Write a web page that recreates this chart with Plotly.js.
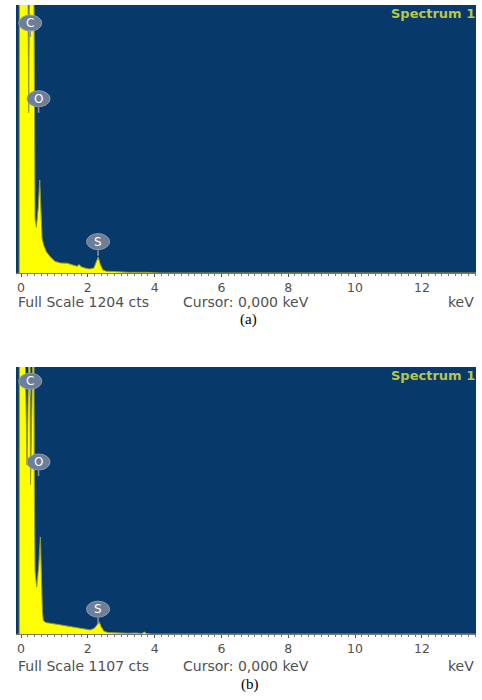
<!DOCTYPE html>
<html>
<head>
<meta charset="utf-8">
<script src="https://cdn.plot.ly/plotly-3.0.1.min.js"></script>
<style>html,body{margin:0;padding:0;background:#fff;}#chart{width:482px;height:700px;}</style>
</head>
<body>
<div id="chart"></div>
<script>
// ---- data ----
const fullScaleA = 1204;
const fullScaleB = 1107;
const energyA = [-0.10, -0.055, -0.05, 0.20, 0.23, 0.26, 0.38, 0.40, 0.42, 0.46, 0.52, 0.56, 0.59, 0.63, 0.68, 0.76, 0.88, 1.02, 1.18, 1.38, 1.55, 1.68, 1.74, 1.80, 1.92, 2.05, 2.18, 2.25, 2.31, 2.37, 2.45, 2.55, 2.70, 2.85, 3.00, 3.20, 3.40, 3.60, 3.80, 3.95, 4.20, 13.7];
const countsA = [0, 0, 1500, 1500, 720, 1500, 1500, 600, 240, 205, 300, 418, 260, 155, 125, 95, 72, 52, 45, 44, 36, 30, 38, 28, 22, 18, 22, 45, 72, 40, 14, 8, 6, 4, 5, 3, 4, 2, 3, 1, 0, 0];
const energyB = [-0.10, -0.055, -0.05, 0.10, 0.18, 0.26, 0.285, 0.31, 0.38, 0.40, 0.42, 0.47, 0.53, 0.58, 0.61, 0.64, 0.67, 0.75, 0.87, 1.00, 1.15, 1.35, 1.55, 1.77, 1.90, 2.07, 2.20, 2.27, 2.34, 2.40, 2.48, 2.60, 2.80, 3.00, 3.20, 3.45, 3.62, 3.69, 3.76, 3.90, 13.7];
const countsB = [0, 0, 1400, 1400, 700, 1400, 620, 1400, 1400, 600, 260, 195, 280, 402, 220, 90, 55, 47, 45, 42, 38, 33, 29, 25, 20, 17, 24, 35, 50, 30, 12, 6, 4, 5, 3, 4, 2, 8, 2, 0, 0];
const elements = ['C', 'O', 'S'];
const elementKeV = [0.277, 0.525, 2.307];
const labelTipA = [1060, 720, 78];
const labelTipB = [990, 655, 45];
const tickVals = [0, 2, 4, 6, 8, 10, 12];
const tickText = ['0', '2', '4', '6', '8', '10', '12'];
const panelTags = ['(a)', '(b)'];

// ---- styles ----
const bg = '#073a6b';
const fill = '#ffff00';
const edge = '#9a9a2c';
const txt = '#505050';
const font = 'DejaVu Sans, Verdana, sans-serif';

function trace(x, y, xa, ya) {
  return {x: x, y: y, xaxis: xa, yaxis: ya, type: 'scatter', mode: 'lines',
    fill: 'tozeroy', fillcolor: fill, line: {color: edge, width: 1}, hoverinfo: 'skip', showlegend: false};
}

function xaxisDef(anchor) {
  return {anchor: anchor, domain: [0, 1], range: [-0.15, 13.62], showgrid: false, zeroline: false,
    showline: true, linecolor: '#777', linewidth: 1, ticks: 'outside', ticklen: 3, tickcolor: '#555',
    tickvals: tickVals, ticktext: tickText,
    minor: {dtick: 0.2, tick0: 0, ticks: 'outside', ticklen: 2, tickcolor: '#777'},
    tickfont: {family: font, size: 12.5, color: txt}};
}
function yaxisDef(dom, fs, anchor) {
  return {anchor: anchor, domain: dom, range: [0, fs], showgrid: false, zeroline: false,
    showticklabels: false, ticks: '', showline: false};
}

const shapes = [];
const annotations = [];
function addLabels(tips, xr, yr) {
  elements.forEach((el, i) => {
    shapes.push({type: 'circle', xref: xr, yref: yr, xsizemode: 'pixel', ysizemode: 'pixel',
      xanchor: elementKeV[i], yanchor: tips[i], x0: -11.5, x1: 11.5, y0: 6, y1: 22,
      fillcolor: '#6c7e98', line: {color: '#8d9cb2', width: 1}, layer: 'above'});
    annotations.push({x: elementKeV[i], y: tips[i], xref: xr, yref: yr, text: el,
      showarrow: true, ax: 0, ay: -14, arrowhead: 0, arrowwidth: 1.5, arrowcolor: '#8796ab',
      font: {family: font, size: 12, color: '#ffffff'}, standoff: 0});
  });
}
addLabels(labelTipA, 'x', 'y');
addLabels(labelTipB, 'x2', 'y2');

function addText(text, x, yPx, anchor, extra) {
  annotations.push(Object.assign({xref: 'paper', yref: 'paper', x: x, y: (700 - yPx) / 700,
    xanchor: anchor, yanchor: 'middle', showarrow: false, text: text,
    font: {family: font, size: 14, color: txt}}, extra || {}));
}
function px2paperX(px) { return (px - 16) / 460; }
const specFont = {family: font, size: 13, color: '#b8c64e', weight: 'bold'};
const tagFont = {family: 'Liberation Serif, Times New Roman, serif', size: 15, color: '#000'};

// panel (a)
addText('Full Scale ' + fullScaleA + ' cts', 0, 302, 'left');
addText('Cursor: 0,000 keV', px2paperX(181), 302, 'left');
addText('keV', 1, 302, 'right');
addText('Spectrum 1', px2paperX(389), 13, 'left', {font: specFont});
addText(panelTags[0], px2paperX(248), 319, 'center', {font: tagFont});
// panel (b)
addText('Full Scale ' + fullScaleB + ' cts', 0, 666, 'left');
addText('Cursor: 0,000 keV', px2paperX(181), 666, 'left');
addText('keV', 1, 666, 'right');
addText('Spectrum 1', px2paperX(389), 375, 'left', {font: specFont});
addText(panelTags[1], px2paperX(250), 684, 'center', {font: tagFont});

const layout = {
  width: 482, height: 700,
  margin: {l: 16, r: 6, t: 0, b: 0},
  paper_bgcolor: '#ffffff', plot_bgcolor: bg,
  showlegend: false,
  xaxis: xaxisDef('y'),
  yaxis: yaxisDef([(700 - 273) / 700, (700 - 5) / 700], fullScaleA, 'x'),
  xaxis2: xaxisDef('y2'),
  yaxis2: yaxisDef([(700 - 634) / 700, (700 - 367) / 700], fullScaleB, 'x2'),
  shapes: shapes,
  annotations: annotations
};

Plotly.newPlot('chart', [trace(energyA, countsA, 'x', 'y'), trace(energyB, countsB, 'x2', 'y2')], layout,
  {displayModeBar: false, staticPlot: true});
</script>
</body>
</html>
